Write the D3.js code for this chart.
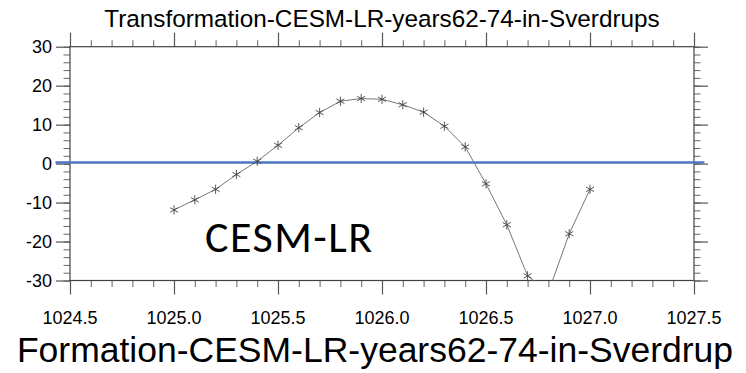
<!DOCTYPE html>
<html>
<head>
<meta charset="utf-8">
<script src="https://cdn.jsdelivr.net/npm/d3@7"></script>
<style>
  body { margin: 0; background: #fff; }
  text { font-family: "Liberation Sans", Arial, sans-serif; fill: #000; }
</style>
</head>
<body>
<div id="chart"></div>
<script>
// density classes (kg m-3) and transformation (Sv)
const densityBins = [1025.0, 1025.1, 1025.2, 1025.3, 1025.4, 1025.5, 1025.6, 1025.7, 1025.8, 1025.9,
    1026.0, 1026.1, 1026.2, 1026.3, 1026.4, 1026.5, 1026.6, 1026.7, 1026.8, 1026.9, 1027.0];
const transformation = [-11.9, -9.3, -6.6, -2.8, 0.6, 4.7, 9.2, 13.1, 16.0, 16.7,
    16.5, 15.1, 13.2, 9.6, 4.3, -5.2, -15.7, -28.8, -33.0, -18.0, -6.6];

const xTicks = [1024.5, 1025.0, 1025.5, 1026.0, 1026.5, 1027.0, 1027.5];
const yTicks = [-30, -20, -10, 0, 10, 20, 30];
const zeroLineX = [1024.43, 1027.55];
const zeroLineY = 0;

const titleText = "Transformation-CESM-LR-years62-74-in-Sverdrups";
const xLabelText = "Formation-CESM-LR-years62-74-in-Sverdrup";
const noteText = "CESM-LR";

const chart = {
    width: 746,
    height: 373,
    left: 70,
    right: 694,
    top: 46.7,
    bottom: 280.5,
    plot: function() {

        let xScale = d3.scaleLinear()
            .domain([1024.5, 1027.5])
            .range([this.left, this.right]);

        let yScale = d3.scaleLinear()
            .domain([-30, 30])
            .range([this.bottom, this.top]);

        const svg = d3.select("#chart")
            .append("svg")
            .attr("width", this.width)
            .attr("height", this.height);

        svg.append("clipPath")
            .attr("id", "plot-clip")
            .append("rect")
            .attr("x", this.left)
            .attr("y", this.top)
            .attr("width", this.right - this.left)
            .attr("height", this.bottom - this.top);

        // minor ticks every 0.1 / 2 units, majors every 0.5 / 10
        const xMinor = d3.range(1024.5, 1027.51, 0.1);
        const yMinor = d3.range(-30, 31, 2);

        const axes = [
            {gen: d3.axisBottom(xScale), pos: `translate(0, ${this.bottom})`, minor: xMinor, major: xTicks},
            {gen: d3.axisTop(xScale), pos: `translate(0, ${this.top})`, minor: xMinor, major: xTicks},
            {gen: d3.axisLeft(yScale), pos: `translate(${this.left}, 0)`, minor: yMinor, major: yTicks},
            {gen: d3.axisRight(yScale), pos: `translate(${this.right}, 0)`, minor: yMinor, major: yTicks}
        ];

        axes.forEach((a) => {
            let g = svg.append("g").attr("transform", a.pos);
            g.call(a.gen.tickValues(a.minor).tickSize(6.5).tickFormat(""));
            g.select(".domain").remove();
            g.selectAll("line").attr("stroke", "#666").attr("stroke-width", 1);
            let gm = svg.append("g").attr("transform", a.pos);
            gm.call(a.gen.tickValues(a.major).tickSize(14).tickFormat(""));
            gm.select(".domain").remove();
            gm.selectAll("line").attr("stroke", "#555").attr("stroke-width", 1.2);
        });

        svg.append("rect")
            .attr("x", this.left)
            .attr("y", this.top)
            .attr("width", this.right - this.left)
            .attr("height", this.bottom - this.top)
            .attr("fill", "none")
            .attr("stroke", "#444")
            .attr("stroke-width", 1.2);

        // tick labels
        svg.append("g")
            .selectAll("text")
            .data(xTicks)
            .enter()
            .append("text")
            .attr("x", (d) => xScale(d))
            .attr("y", this.bottom + 43)
            .attr("text-anchor", "middle")
            .style("font-size", "18px")
            .text((d) => d.toFixed(1));

        svg.append("g")
            .selectAll("text")
            .data(yTicks)
            .enter()
            .append("text")
            .attr("x", this.left - 18)
            .attr("y", (d) => yScale(d))
            .attr("dy", "0.35em")
            .attr("text-anchor", "end")
            .style("font-size", "18px")
            .text((d) => d);

        // zero reference line
        svg.append("line")
            .attr("x1", xScale(zeroLineX[0]))
            .attr("x2", xScale(zeroLineX[1]))
            .attr("y1", yScale(zeroLineY) - 1)
            .attr("y2", yScale(zeroLineY) - 1)
            .attr("stroke", "#4a76c6")
            .attr("stroke-width", 2.5);

        const pts = densityBins.map((d, i) => [d, transformation[i]]);

        let line = d3.line()
            .x((d) => xScale(d[0]))
            .y((d) => yScale(d[1]));

        const plotArea = svg.append("g").attr("clip-path", "url(#plot-clip)");

        plotArea.append("path")
            .datum(pts)
            .attr("d", line)
            .attr("fill", "none")
            .attr("stroke", "#777")
            .attr("stroke-width", 1);

        plotArea.selectAll("path.marker")
            .data(pts.filter((d) => d[1] >= -30 && d[1] <= 30))
            .enter()
            .append("path")
            .attr("class", "marker")
            .attr("transform", (d) => `translate(${xScale(d[0])}, ${yScale(d[1])})`)
            .attr("d", d3.symbol(d3.symbolAsterisk, 60))
            .attr("fill", "none")
            .attr("stroke", "#444")
            .attr("stroke-width", 0.9);

        svg.append("text")
            .attr("x", 382)
            .attr("y", 27)
            .attr("text-anchor", "middle")
            .style("font-size", "24.3px")
            .text(titleText);

        svg.append("text")
            .attr("x", 375)
            .attr("y", 362)
            .attr("text-anchor", "middle")
            .style("font-size", "35.5px")
            .text(xLabelText);

        svg.append("text")
            .attr("x", 205)
            .attr("y", 252)
            .style("font-family", "Carlito, 'Open Sans', sans-serif")
            .style("font-size", "44px")
            .style("letter-spacing", "1.5px")
            .text(noteText);
    }
};

chart.plot();
</script>
</body>
</html>
